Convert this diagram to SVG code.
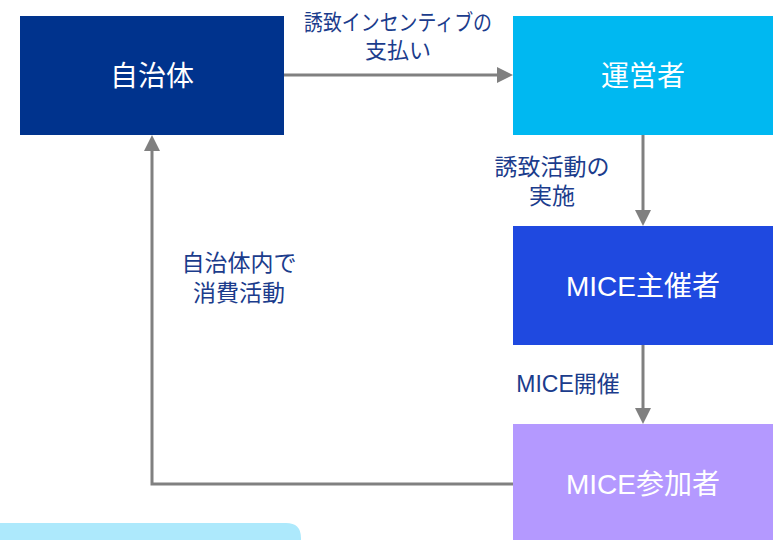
<svg xmlns="http://www.w3.org/2000/svg" width="773" height="540" viewBox="0 0 773 540">
<defs>
<style>
.node text{font-family:"Liberation Sans","Noto Sans CJK JP",sans-serif;font-size:28px;fill:#ffffff;text-anchor:middle;dominant-baseline:central}
.lbl{font-family:"Liberation Sans","Noto Sans CJK JP",sans-serif;font-size:23px;fill:#1B3C8C;text-anchor:middle}
.lbl.s{font-size:22px}
.con{fill:none;stroke:#808080;stroke-width:3}
.head{fill:#808080}
</style>
</defs>
<rect width="773" height="540" fill="#ffffff"/>
<g id="connectors">
<path class="con" d="M284,75 L497,75"/>
<path class="head" d="M497,67 L513,75 L497,83 z"/>
<path class="con" d="M643,135 L643,211"/>
<path class="head" d="M635,210 L643,226 L651,210 z"/>
<path class="con" d="M643,345 L643,409"/>
<path class="head" d="M635,408 L643,424 L651,408 z"/>
<path class="con" d="M513,484 L152,484 L152,150"/>
<path class="head" d="M144,151 L152,135 L160,151 z"/>
</g>
<g id="labels">
<text class="lbl s" x="398" y="30" textLength="188" lengthAdjust="spacingAndGlyphs">誘致インセンティブの</text>
<text class="lbl s" x="398" y="58">支払い</text>
<text class="lbl" x="552" y="175">誘致活動の</text>
<text class="lbl" x="552" y="204">実施</text>
<text class="lbl" x="239" y="271">自治体内で</text>
<text class="lbl" x="239" y="301">消費活動</text>
<text class="lbl" x="568" y="392">MICE開催</text>
</g>
<g id="node-jichitai" class="node">
<rect x="20" y="16" width="264" height="119" fill="#00338D"/>
<text x="152" y="76">自治体</text>
</g>
<g id="node-uneisha" class="node">
<rect x="513" y="16" width="260" height="119" fill="#00B8F1"/>
<text x="643" y="76">運営者</text>
</g>
<g id="node-shusaisha" class="node">
<rect x="513" y="226" width="260" height="119" fill="#1F49E0"/>
<text x="643" y="286">MICE主催者</text>
</g>
<g id="node-sankasha" class="node">
<rect x="513" y="424" width="260" height="130" fill="#B499FF"/>
<text x="643" y="484">MICE参加者</text>
</g>
<g id="bottom-shape">
<path d="M0,523 L286,523 Q301,523 301,538 L301,545 L0,545 z" fill="#ADE9FC"/>
</g>
</svg>
